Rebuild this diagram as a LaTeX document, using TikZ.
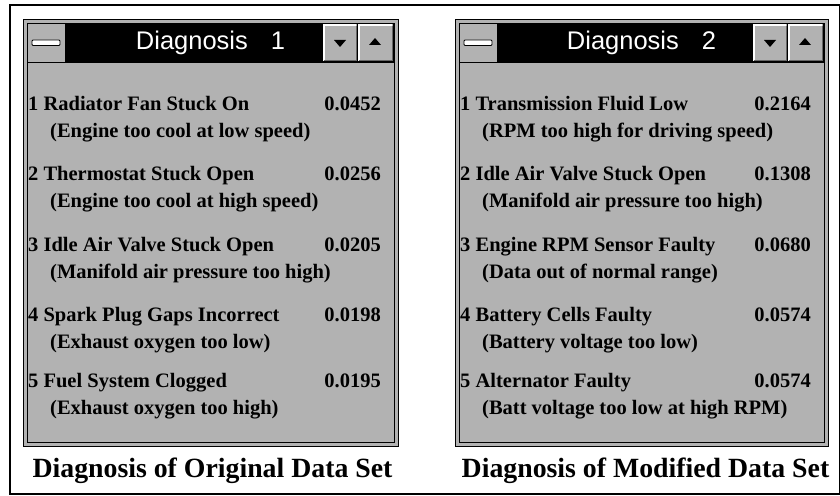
\documentclass[tikz,border=0pt]{standalone}
\usepackage{fontspec}
\setmainfont{Liberation Serif}
\newfontfamily\titlefont{Liberation Sans}
\definecolor{panelgray}{rgb}{0.70,0.70,0.70}
\definecolor{shadegray}{rgb}{0.40,0.40,0.40}
\tikzset{
  entry/.style={anchor=base west, inner sep=0pt, font=\fontsize{20.5}{22}\selectfont\bfseries},
  score/.style={anchor=base east, inner sep=0pt, font=\fontsize{20.5}{22}\selectfont\bfseries},
  caption/.style={anchor=base, inner sep=0pt, font=\fontsize{27.8}{30}\selectfont\bfseries},
  wintitle/.style={text=white, inner sep=0pt, font=\titlefont\fontsize{25.5}{27}\selectfont},
  edge/.style={line width=1pt},
}
% #1 prefix, #2 left x, #3 right x, #4 title
\newcommand\diagwin[4]{%
  \fill[panelgray] (#2,20) rectangle (#3,446);
  \draw[edge] (#2,20) rectangle (#3,446);
  \draw[edge] ({#2+4},24) rectangle ({#3-4},442);
  \fill[black] ({#2+4},24) rectangle ({#3-4},63);
  \draw[edge] ({#2+4},63) -- ({#3-4},63);
  % control-menu box
  \fill[panelgray] ({#2+4.5},24.5) rectangle ({#2+42},62.5);
  \draw[edge] ({#2+42},24) -- ({#2+42},63);
  \draw[line width=0.9pt, fill=white, rounded corners=1pt] ({#2+9},40) rectangle ({#2+37},45.5);
  % scroll buttons
  \fill[panelgray] ({#3-75},24.5) rectangle ({#3-41},61);
  \draw[white, line width=2pt] ({#3-74},61) -- ({#3-74},25.5) -- ({#3-42},25.5);
  \draw[shadegray, line width=1.5pt] ({#3-74},60.5) -- ({#3-41.5},60.5) -- ({#3-41.5},26);
  \fill[black] ({#3-64},40) -- ({#3-52},40) -- ({#3-58},47) -- cycle;
  \fill[panelgray] ({#3-40},24.5) rectangle ({#3-5},61);
  \draw[white, line width=2pt] ({#3-39},61) -- ({#3-39},25.5) -- ({#3-6},25.5);
  \draw[shadegray, line width=1.5pt] ({#3-39},60.5) -- ({#3-5.5},60.5) -- ({#3-5.5},26);
  \fill[black] ({#3-29},45) -- ({#3-17},45) -- ({#3-23},38) -- cycle;
  \node[wintitle] (#1title) at ({(#2+#3)/2},43) {Diagnosis\hspace{0.9em}#4};
}
% #1 node name, #2 left x, #3 right x, #4 baseline, #5 cause, #6 symptom, #7 value
\newcommand\diagrow[7]{%
  \node[entry] (#1) at ({#2+5},#4) {#5};
  \node[entry] (#1sym) at ({#2+27},{#4+27}) {#6};
  \node[score] (#1val) at ({#3-17},#4) {#7};
}
\begin{document}
\begin{tikzpicture}[x=1pt,y=-1pt]
\useasboundingbox (0,0) rectangle (840,495);
\fill[white] (0,0) rectangle (840,495);
\draw[line width=1.2pt] (10,5) rectangle (839.4,494);

% original data set
\diagwin{a}{23}{398}{1}
\diagrow{a1}{23}{398}{110}{1 Radiator Fan Stuck On}{(Engine too cool at low speed)}{0.0452}
\diagrow{a2}{23}{398}{180.5}{2 Thermostat Stuck Open}{(Engine too cool at high speed)}{0.0256}
\diagrow{a3}{23}{398}{251}{3 Idle Air Valve Stuck Open}{(Manifold air pressure too high)}{0.0205}
\diagrow{a4}{23}{398}{321.5}{4 Spark Plug Gaps Incorrect}{(Exhaust oxygen too low)}{0.0198}
\diagrow{a5}{23}{398}{387}{5 Fuel System Clogged}{(Exhaust oxygen too high)}{0.0195}
\node[caption] (acap) at (212.5,477) {Diagnosis of Original Data Set};

% modified data set
\diagwin{b}{455}{828}{2}
\diagrow{b1}{455}{828}{110}{1 Transmission Fluid Low}{(RPM too high for driving speed)}{0.2164}
\diagrow{b2}{455}{828}{180.5}{2 Idle Air Valve Stuck Open}{(Manifold air pressure too high)}{0.1308}
\diagrow{b3}{455}{828}{251}{3 Engine RPM Sensor Faulty}{(Data out of normal range)}{0.0680}
\diagrow{b4}{455}{828}{321.5}{4 Battery Cells Faulty}{(Battery voltage too low)}{0.0574}
\diagrow{b5}{455}{828}{387}{5 Alternator Faulty}{(Batt voltage too low at high RPM)}{0.0574}
\node[caption] (bcap) at (645.5,477) {Diagnosis of Modified Data Set};
\end{tikzpicture}
\end{document}
